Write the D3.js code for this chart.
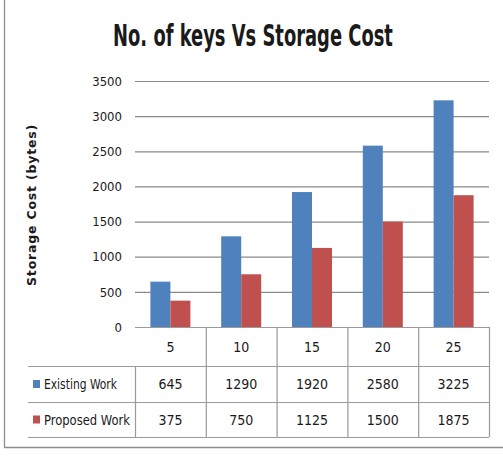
<!DOCTYPE html>
<meta charset="utf-8">
<style>
body { margin: 0; background: #fff; }
text { font-family: "DejaVu Sans Condensed", "Liberation Sans Narrow", sans-serif; fill: #1a1a1a; }
.grid line { stroke: #8a8a8a; stroke-width: 1.2; }
.tbl line { stroke: #9a9a9a; stroke-width: 1.2; }
</style>
<body>
<script src="https://d3js.org/d3.v7.min.js"></script>
<script>

// chart data
var keys = ["5", "10", "15", "20", "25"];
var seriesNames = ["Existing Work", "Proposed Work"];
var existing = [645, 1290, 1920, 2580, 3225];
var proposed = [375, 750, 1125, 1500, 1875];
var yTicks = [0, 500, 1000, 1500, 2000, 2500, 3000, 3500];
var colors = ["#4F81BD", "#C0504D"];

var width = 503, height = 460;
var plot = {left: 135, right: 489, top: 81, bottom: 327};
var rowH = [39, 36, 35];  // header row, then one row per series
var tableLeft = 28;

var svg = d3.select("body").append("svg")
    .attr("width", width)
    .attr("height", height);

// outer frame (left and bottom edges visible)
svg.append("path")
    .attr("d", "M4.5,0V447.5H503")
    .attr("fill", "none")
    .attr("stroke", "#8c8c8c")
    .attr("stroke-width", 1.3);

var x0 = d3.scaleBand()
    .domain(keys)
    .range([plot.left, plot.right]);

var x1 = d3.scaleBand()
    .domain(seriesNames)
    .range([x0.bandwidth() / 2 - 20, x0.bandwidth() / 2 + 20]);

var y = d3.scaleLinear()
    .domain([0, 3500])
    .range([plot.bottom, plot.top]);

// gridlines
svg.append("g")
    .attr("class", "grid")
  .selectAll("line")
    .data(yTicks.slice(1))
  .enter().append("line")
    .attr("x1", plot.left)
    .attr("x2", plot.right)
    .attr("y1", d => y(d) + 0.5)
    .attr("y2", d => y(d) + 0.5);

// y axis labels
var yAxis = d3.axisLeft(y).tickValues(yTicks).tickSize(0).tickPadding(13).tickFormat(d3.format("d"));
var ya = svg.append("g")
    .attr("transform", "translate(" + plot.left + ",0)")
    .call(yAxis);
ya.select(".domain").remove();
ya.selectAll("text")
    .style("font-size", "13px")
    .style("font-family", "DejaVu Sans Condensed, sans-serif")
    .attr("fill", "#1a1a1a");

// bars
var allSeries = [existing, proposed];
var bars = [];
keys.forEach(function(k, i) {
  seriesNames.forEach(function(s, j) {
    bars.push({key: k, series: s, value: allSeries[j][i], color: colors[j]});
  });
});

svg.append("g").selectAll("rect")
    .data(bars)
  .enter().append("rect")
    .attr("x", d => x0(d.key) + x1(d.series))
    .attr("width", x1.bandwidth())
    .attr("y", d => y(d.value))
    .attr("height", d => y(0) - y(d.value))
    .attr("fill", d => d.color);

// data table
var tbl = svg.append("g").attr("class", "tbl");
var rowY = [plot.bottom, plot.bottom + rowH[0], plot.bottom + rowH[0] + rowH[1], plot.bottom + rowH[0] + rowH[1] + rowH[2]];

// axis line / top of header row
tbl.append("line")
    .attr("x1", plot.left).attr("x2", plot.right)
    .attr("y1", rowY[0] + 0.5).attr("y2", rowY[0] + 0.5);
// row lines
rowY.slice(1).forEach(function(yy) {
  tbl.append("line")
      .attr("x1", tableLeft).attr("x2", plot.right)
      .attr("y1", yy + 0.5).attr("y2", yy + 0.5);
});
// column lines
keys.forEach(function(k, i) {
  var xx = x0(k) + x0.bandwidth();
  tbl.append("line")
      .attr("x1", xx + 0.5).attr("x2", xx + 0.5)
      .attr("y1", rowY[0]).attr("y2", rowY[3]);
});
tbl.append("line")
    .attr("x1", plot.left + 0.5).attr("x2", plot.left + 0.5)
    .attr("y1", rowY[1]).attr("y2", rowY[3]);

// header labels
svg.append("g").selectAll("text")
    .data(keys)
  .enter().append("text")
    .attr("x", d => x0(d) + x0.bandwidth() / 2)
    .attr("y", (rowY[0] + rowY[1]) / 2 + 5)
    .attr("text-anchor", "middle")
    .style("font-size", "14px")
    .text(d => d);

// series rows
seriesNames.forEach(function(s, j) {
  var cy = (rowY[j + 1] + rowY[j + 2]) / 2;
  svg.append("rect")
      .attr("x", 33)
      .attr("y", cy - 4)
      .attr("width", 7)
      .attr("height", 8)
      .attr("fill", colors[j]);
  svg.append("text")
      .attr("x", 44)
      .attr("y", cy + 5)
      .style("font-size", "14px")
      .attr("textLength", j === 0 ? 73 : 86)
      .attr("lengthAdjust", "spacingAndGlyphs")
      .text(s);
  svg.append("g").selectAll("text")
      .data(allSeries[j])
    .enter().append("text")
      .attr("x", (d, i) => x0(keys[i]) + x0.bandwidth() / 2)
      .attr("y", cy + 5)
      .attr("text-anchor", "middle")
      .style("font-size", "14px")
      .text(d => d);
});

// title, squeezed horizontally to the narrow look of the original
var title = svg.append("text")
    .attr("text-anchor", "middle")
    .style("font-size", "30px")
    .style("font-weight", "bold")
    .text("No. of keys Vs Storage Cost");
var tw = title.node().getComputedTextLength();
title.attr("transform", "translate(253,46) scale(" + (280 / tw) + ",1)");

// y axis title
svg.append("text")
    .attr("transform", "translate(36,205) rotate(-90)")
    .attr("text-anchor", "middle")
    .style("font-family", "DejaVu Sans, sans-serif")
    .style("font-size", "12.5px")
    .style("font-weight", "bold")
    .style("letter-spacing", "0.8px")
    .text("Storage Cost (bytes)");

</script>
</body>
